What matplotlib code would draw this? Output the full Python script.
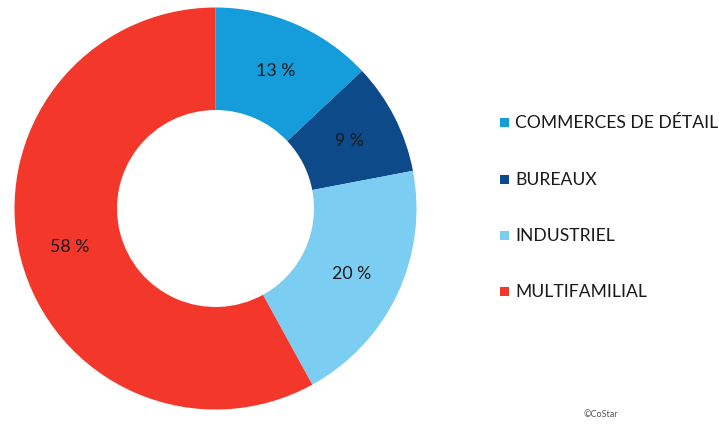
import matplotlib
matplotlib.use("Agg")
import matplotlib.pyplot as plt
from matplotlib.patches import Rectangle

categories = ["COMMERCES DE DÉTAIL", "BUREAUX", "INDUSTRIEL", "MULTIFAMILIAL"]
shares = [13, 9, 20, 58]
colors = ["#159CDB", "#0C4A8A", "#7BCDF2", "#F4372B"]
source = "©CoStar"

plt.rcParams["font.family"] = ["Lato", "DejaVu Sans"]

W, H = 719, 427
fig = plt.figure(figsize=(W / 100, H / 100), dpi=100)

# donut centred at (215.5, 209.5) px, outer radius 201 px
cx, cy, r = 215.5, 209.5, 201
ax = fig.add_axes([(cx - r) / W, (H - cy - r) / H, 2 * r / W, 2 * r / H])
wedges, texts, autotexts = ax.pie(
    shares, colors=colors, startangle=90, counterclock=False,
    radius=1.0, wedgeprops=dict(width=0.51, linewidth=0),
    autopct=lambda p: f"{p:.0f} %", pctdistance=0.75,
    textprops=dict(fontsize=12.8, color="#1a1a1a"),
)
ax.set_xlim(-1, 1)
ax.set_ylim(-1, 1)
ax.set_aspect("equal")
ax.axis("off")

# legend
rows_y = [123, 180, 236, 292]
for name, col, y in zip(categories, colors, rows_y):
    fig.patches.append(Rectangle((500 / W, (H - y - 4.5) / H), 9 / W, 9 / H,
                                 transform=fig.transFigure, facecolor=col,
                                 edgecolor="none"))
    fig.text(515 / W, (H - y) / H, name, fontsize=12.6, color="#1a1a1a",
             va="center", ha="left")

fig.text(583 / W, (H - 415) / H, source, fontsize=6.5, color="#555555",
         va="center", ha="left")

fig.savefig("out.png", dpi=100)
